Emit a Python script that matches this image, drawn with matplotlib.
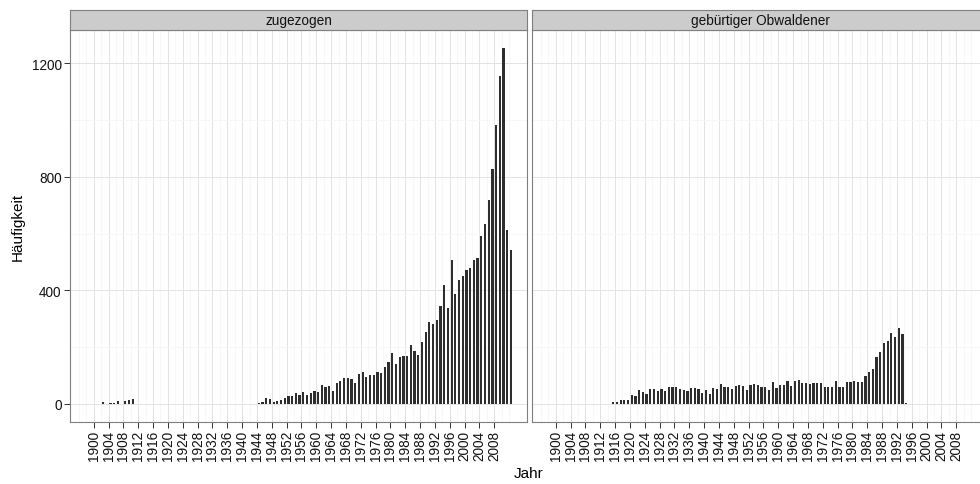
import matplotlib.pyplot as plt
import numpy as np

plt.rcParams['font.family'] = ['Liberation Sans', 'DejaVu Sans']

panel_titles = ["zugezogen", "gebürtiger Obwaldener"]

# zugezogen: a few early years, then 1944..2012
zug_years = [1902, 1904, 1905, 1906, 1908, 1909, 1910, 1913] + list(range(1944, 2013))
zug_counts = [5, 3, 3, 10, 10, 14, 19, 1,
              4, 6, 20, 17, 6, 9, 13, 21, 27, 29, 38, 33, 41, 31, 39, 45, 43,
              66, 59, 63, 47, 74, 81, 92, 90, 88, 74, 105, 112, 93, 100, 100, 114,
              108, 129, 149, 179, 141, 165, 169, 167, 209, 188, 173, 217, 253, 287,
              282, 296, 344, 417, 338, 508, 388, 438, 450, 470, 478, 505, 515, 593,
              635, 717, 828, 981, 1154, 1254, 614, 543]

# gebuertiger Obwaldener: 1915..1994
geb_years = list(range(1915, 1995))
geb_counts = [8, 6, 14, 13, 12, 32, 28, 49, 42, 35, 52, 52, 47, 53, 45, 59,
              59, 58, 54, 49, 46, 56, 55, 54, 39, 49, 36, 56, 52, 70, 58, 59,
              52, 62, 67, 62, 49, 68, 69, 65, 61, 61, 49, 78, 55, 65, 67, 81,
              64, 80, 85, 75, 73, 69, 72, 73, 74, 59, 58, 58, 79, 61, 61, 76,
              76, 79, 76, 76, 99, 114, 123, 166, 183, 213, 222, 250, 236, 266,
              247, 2]

x_breaks = list(range(1900, 2009, 4))
y_breaks = [0, 400, 800, 1200]

W, H = 980, 485
fig = plt.figure(figsize=(W / 100, H / 100), dpi=100)

border = '#7F7F7F'
panel_left = [70, 532]
panel_w = 457.3
panel_top, panel_bottom = 31, 422.7
strip_top = 10.5

series = [(zug_years, zug_counts), (geb_years, geb_counts)]

for i, (years, counts) in enumerate(series):
    ax = fig.add_axes([panel_left[i] / W, (H - panel_bottom) / H,
                       panel_w / W, (panel_bottom - panel_top) / H])
    ax.set_axisbelow(True)
    ax.bar(np.array(years) + 0.5, counts, width=0.6, color='#2e2e2e', linewidth=0)
    ax.set_xlim(1893.6, 2016.9)
    ax.set_ylim(-62.7, 1316.7)

    ax.set_xticks(x_breaks)
    ax.set_xticklabels([str(y) for y in x_breaks], rotation=90, va='top', ha='center')
    ax.set_xticks(np.arange(1896, 2013, 2), minor=True)
    ax.set_yticks(y_breaks)
    ax.set_yticks([200, 600, 1000], minor=True)

    ax.grid(which='minor', color='#F7F7F7', linewidth=0.7)
    ax.grid(which='major', color='#E3E3E3', linewidth=0.7)
    ax.tick_params(which='minor', length=0)
    ax.tick_params(which='major', length=4, width=0.7, color='#333333',
                   labelsize=9.8, labelcolor='#111111', pad=2)
    if i == 0:
        ax.set_yticklabels([str(v) for v in y_breaks])
    else:
        ax.tick_params(axis='y', which='both', left=False, labelleft=False)

    for s in ax.spines.values():
        s.set_color(border)
        s.set_linewidth(0.8)

    sax = fig.add_axes([panel_left[i] / W, (H - panel_top) / H,
                        panel_w / W, (panel_top - strip_top) / H])
    sax.set_facecolor('#CCCCCC')
    sax.set_xticks([])
    sax.set_yticks([])
    for s in sax.spines.values():
        s.set_color(border)
        s.set_linewidth(0.8)
    sax.text(0.5, 0.48, panel_titles[i], ha='center', va='center',
             fontsize=9.8, color='#111111', transform=sax.transAxes)

fig.text(529 / W, 1 - 474 / H, "Jahr", ha='center', va='center', fontsize=11)
fig.text(18 / W, 1 - ((panel_top + panel_bottom) / 2) / H, "Häufigkeit",
         ha='center', va='center', rotation=90, fontsize=11)

fig.savefig('out.png', dpi=100)
